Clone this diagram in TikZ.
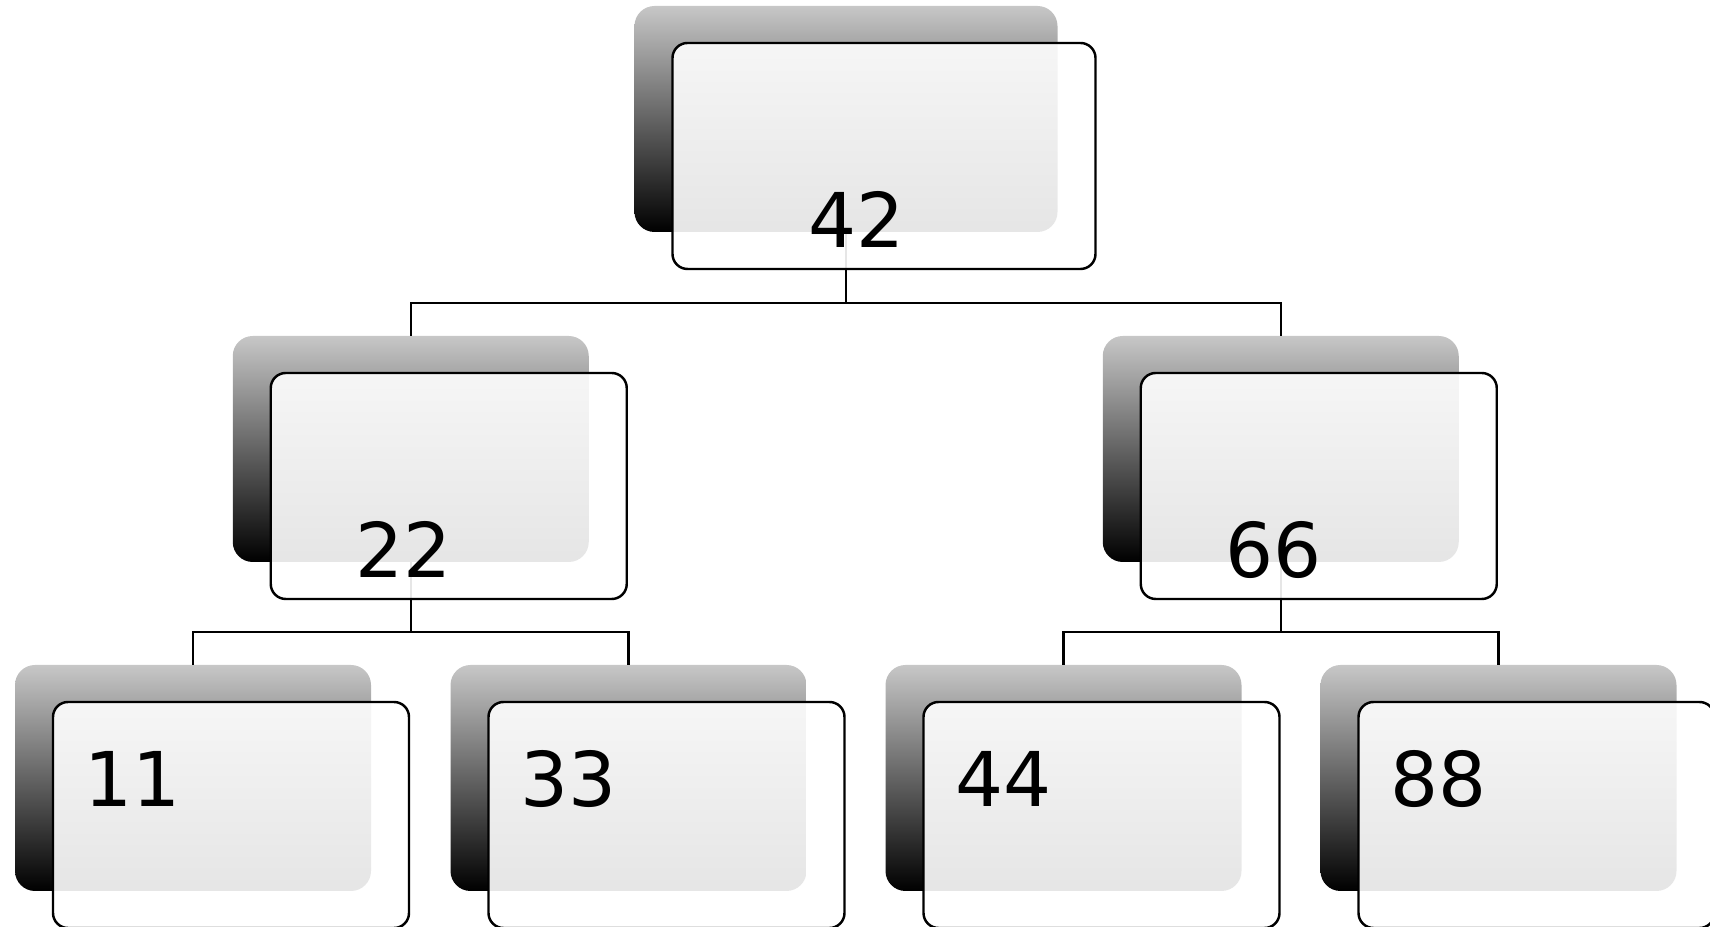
\documentclass[tikz,border=0pt]{standalone}
\usepackage{fontspec}
\setmainfont{DejaVu Sans}
\usetikzlibrary{calc, positioning}

\begin{document}
\begin{tikzpicture}[
    shadowbox/.style={rectangle, rounded corners=0.4cm, top color=black!22, bottom color=black,
        minimum height=4.52cm, inner sep=0pt, outer sep=0pt},
    frontbox/.style={rectangle, rounded corners=0.3cm, draw=black, line width=1.4pt,
        fill=white, fill opacity=0.9, minimum height=4.52cm, inner sep=0pt, outer sep=0pt},
    widebox/.style={minimum width=8.46cm},
    narrowbox/.style={minimum width=7.12cm},
    conn/.style={line width=1.25pt},
    lbl/.style={font=\fontsize{43}{50}\selectfont, inner sep=0pt, text opacity=1}]
    \useasboundingbox (0,0) rectangle (34.2,18.54);

    % --- Back (shaded) boxes ---
    \node[shadowbox, widebox] (sh_42) at (16.92, 16.16) {};
    \node[shadowbox, narrowbox] (sh_22) at (8.215, 9.56) {};
    \node[shadowbox, narrowbox] (sh_66) at (25.615, 9.56) {};
    \node[shadowbox, narrowbox] (sh_11) at (3.86, 2.98) {};
    \node[shadowbox, narrowbox] (sh_33) at (12.57, 2.98) {};
    \node[shadowbox, narrowbox] (sh_44) at (21.27, 2.98) {};
    \node[shadowbox, narrowbox] (sh_88) at (29.97, 2.98) {};

    % --- Connectors (under the front boxes) ---
    \coordinate (bus_42) at ($(sh_42.south)+(0,-1.42)$);
    \coordinate (bus_22) at ($(sh_22.south)+(0,-1.40)$);
    \coordinate (bus_66) at ($(sh_66.south)+(0,-1.40)$);
    \draw[conn] (sh_42.south) -- (bus_42) -| (sh_22.north);
    \draw[conn] (bus_42) -| (sh_66.north);
    \draw[conn] (sh_22.south) -- (bus_22) -| (sh_11.north);
    \draw[conn] (bus_22) -| (sh_33.north);
    \draw[conn] (sh_66.south) -- (bus_66) -| (sh_44.north);
    \draw[conn] (bus_66) -| (sh_88.north);

    % --- Front boxes ---
    \node[frontbox, widebox] (box_42) at ($(sh_42)+(0.76,-0.74)$) {};
    \node[frontbox, narrowbox] (box_22) at ($(sh_22)+(0.76,-0.74)$) {};
    \node[frontbox, narrowbox] (box_66) at ($(sh_66)+(0.76,-0.74)$) {};
    \node[frontbox, narrowbox] (box_11) at ($(sh_11)+(0.76,-0.74)$) {};
    \node[frontbox, narrowbox] (box_33) at ($(sh_33)+(0.76,-0.74)$) {};
    \node[frontbox, narrowbox] (box_44) at ($(sh_44)+(0.76,-0.74)$) {};
    \node[frontbox, narrowbox] (box_88) at ($(sh_88)+(0.76,-0.74)$) {};

    % --- Keys ---
    \node[lbl, anchor=base] (lab_42) at ($(sh_42.south)+(0.21,-0.31)$) {42};
    \node[lbl, anchor=base] (lab_22) at ($(sh_22.south)+(-0.14,-0.31)$) {22};
    \node[lbl, anchor=base] (lab_66) at ($(sh_66.south)+(-0.15,-0.31)$) {66};
    \node[lbl, anchor=base west] (lab_11) at ($(sh_11.west)+(1.39,-0.58)$) {11};
    \node[lbl, anchor=base west] (lab_33) at ($(sh_33.west)+(1.39,-0.58)$) {33};
    \node[lbl, anchor=base west] (lab_44) at ($(sh_44.west)+(1.39,-0.58)$) {44};
    \node[lbl, anchor=base west] (lab_88) at ($(sh_88.west)+(1.39,-0.58)$) {88};
\end{tikzpicture}
\end{document}
